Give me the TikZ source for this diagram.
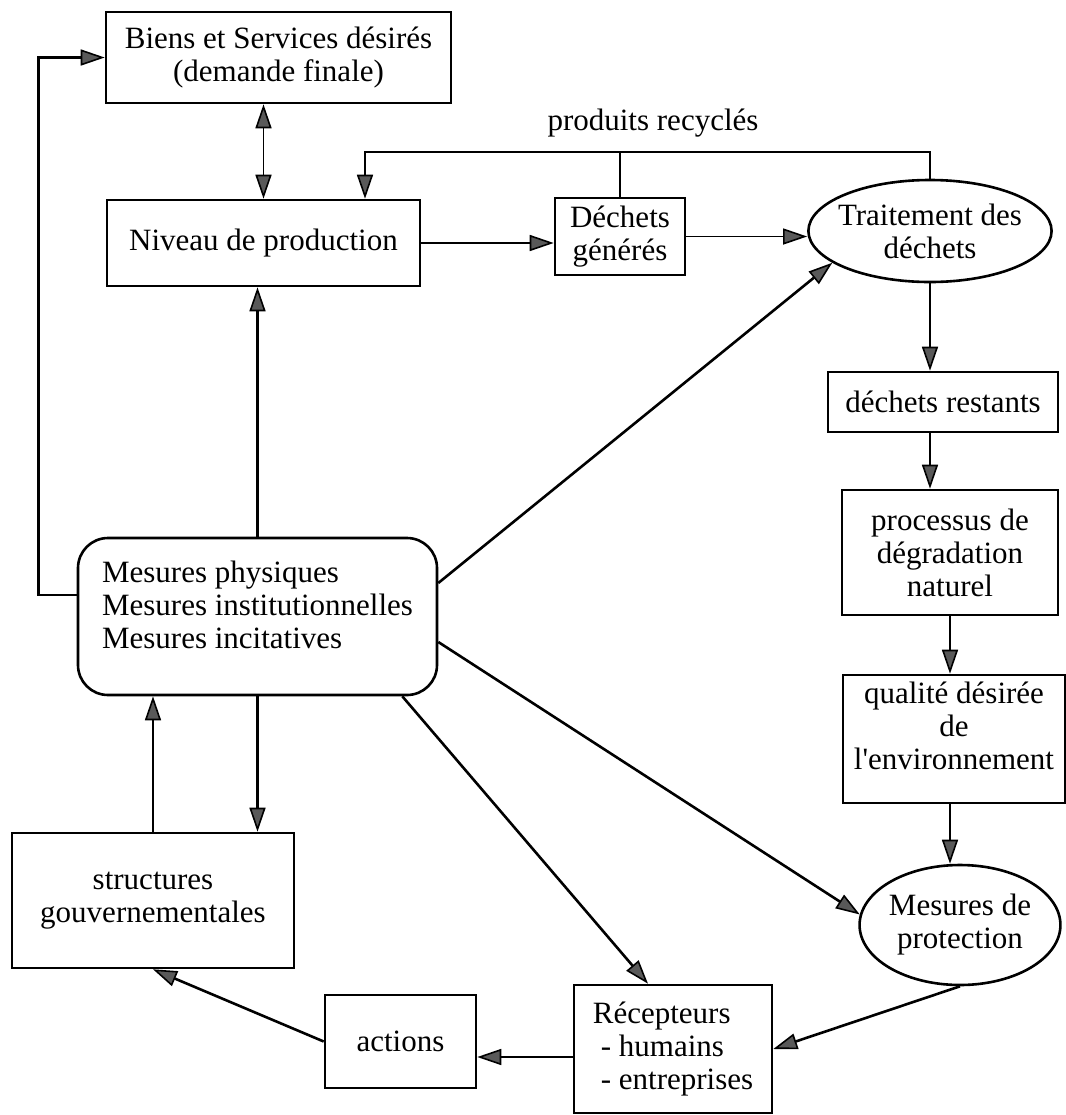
\documentclass[tikz,border=0pt]{standalone}
\usepackage{fontspec}
\setmainfont{Liberation Serif}
\usetikzlibrary{shapes}
\usetikzlibrary{arrows.meta}

\begin{document}
\begin{tikzpicture}[->,
            x=0.5pt, y=-0.5pt,
            >={Triangle[length=12pt,width=8pt,line width=0.8pt,fill=black!65]},
            line width=1.3pt,
            font=\fontsize{15.5}{16.5}\selectfont,
            box/.style = {draw,align=center,inner sep=2pt},
            oval/.style = {draw,ellipse,align=center,inner sep=0pt},
            thinlink/.style = {line width=0.9pt}]
            \useasboundingbox (0,0) rectangle (1066,1115);
            \node[box, minimum width=172.5pt, minimum height=45.5pt](biens) at (278.5,57.5) {Biens et Services désirés\\(demande finale)};
            \node[box, minimum width=156.5pt, minimum height=43pt](niveau) at (263.5,243) {Niveau de production};
            \node[box, minimum width=65pt, minimum height=38.5pt](dechets) at (620,236.5) {Déchets\\générés};
            \node[oval, minimum width=120pt, minimum height=51pt, inner xsep=-3pt](traitement) at (930,231) {Traitement des\\déchets};
            \node[box, minimum width=115pt, minimum height=30pt](restants) at (943,402) {déchets restants};
            \node[box, minimum width=108pt, minimum height=62.5pt](processus) at (950,552.5) {processus de\\dégradation\\naturel};
            \node[box, minimum width=111pt, minimum height=64pt, inner ysep=3.5pt, text depth=13pt](qualite) at (954,739) {qualité désirée\\de\\l\textquotesingle environnement};
            \node[oval, minimum width=100pt, minimum height=60pt](protection) at (960,925) {Mesures de\\protection};
            \node[box, minimum width=99pt, minimum height=64pt, align=left](recepteurs) at (673,1049) {Récepteurs\\\hspace{4pt}- humains\\\hspace{4pt}- entreprises};
            \node[box, minimum width=75.5pt, minimum height=46.5pt](actions) at (400.5,1041.5) {actions};
            \node[box, minimum width=141pt, minimum height=67.5pt](structures) at (153,900.5) {structures\\gouvernementales};
            \node[box, rounded corners=15pt, minimum width=179.5pt, minimum height=78.5pt, align=left, text depth=11.5pt](mesures) at (257.5,616.5) {Mesures physiques\\Mesures institutionnelles\\Mesures incitatives};
            \node (recycles) at (653,123) {produits recyclés};
            \coordinate (retour) at (365,152);
            % boucle des produits recycles
            \draw[thinlink] (traitement.north) |- (retour) -- (retour |- niveau.north);
            \draw[-, thinlink] (dechets.north) -- (dechets.north |- retour);
            \draw ([yshift=10.75pt]mesures.west) -- ++(-19pt,0) |- (biens.west);
            \path[thinlink]
                (niveau.north |- biens.south) edge[<->] (niveau.north)
                (niveau.east) edge (niveau.east -| dechets.west)
                (dechets.east) edge (dechets.east -| traitement.west);
            \path[]
                (traitement.south) edge (traitement.south |- restants.north)
                (traitement.south |- restants.south) edge (traitement.south |- processus.north)
                (processus.south) edge (processus.south |- qualite.north)
                (processus.south |- qualite.south) edge (processus.south |- protection.north)
                (protection.south) edge (recepteurs.east)
                ([yshift=-4pt]recepteurs.west) edge ([yshift=-4pt]recepteurs.west -| actions.east)
                (actions.west) edge (structures.south)
                (structures.north) edge (structures.north |- mesures.south)
                (mesures.south) edge (mesures.south |- structures.north)
                (mesures.north) edge (mesures.north |- niveau.south)
                ([yshift=16.75pt]mesures.east) edge (traitement.198)
                ([yshift=-12.75pt]mesures.east) edge (protection.174)
                ([xshift=-18pt]mesures.south east) edge ([xshift=-12.5pt]recepteurs.north);
        \end{tikzpicture}
\end{document}
